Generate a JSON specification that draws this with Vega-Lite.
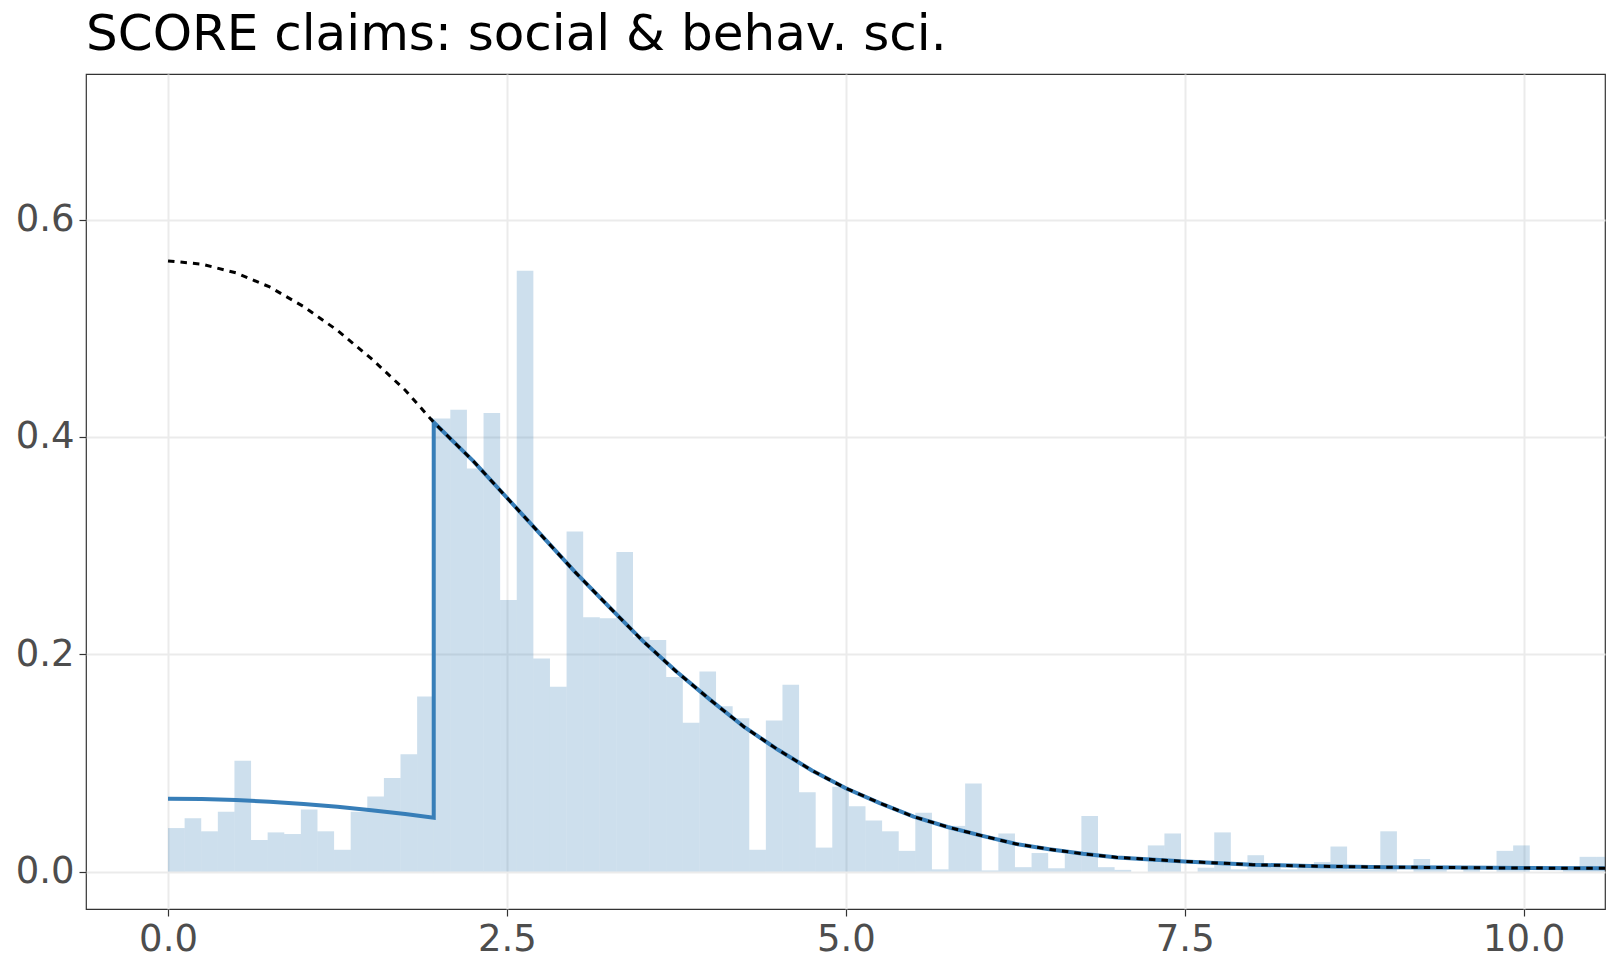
{
  "$schema": "https://vega.github.io/schema/vega-lite/v6.json",
  "description": "SCORE claims: social & behav. sci. - histogram of z with fitted densities",
  "width": 1519,
  "height": 835,
  "autosize": "none",
  "padding": {"left": 86, "top": 74, "right": 15, "bottom": 63},
  "background": "white",
  "title": {
    "text": "SCORE claims: social & behav. sci.",
    "anchor": "start",
    "frame": "group",
    "font": "DejaVu Sans",
    "fontSize": 50,
    "fontWeight": "normal",
    "color": "black",
    "baseline": "alphabetic",
    "offset": 18,
    "dy": 44
  },
  "config": {
    "view": {"stroke": "#333333", "strokeWidth": 1.2},
    "axis": {
      "title": null,
      "domain": false,
      "grid": true,
      "gridColor": "#EBEBEB",
      "gridWidth": 2,
      "tickColor": "#333333",
      "tickWidth": 1.2,
      "tickSize": 7,
      "labelColor": "#4D4D4D",
      "labelFont": "DejaVu Sans",
      "labelFontSize": 37,
      "labelPadding": 5,
      "labelOverlap": false,
      "labelFlush": false,
      "format": ".1f"
    }
  },
  "datasets": {
    "hist": [
      {"lo": 0, "hi": 0.1225, "density": 0.040},
      {"lo": 0.1225, "hi": 0.245, "density": 0.049},
      {"lo": 0.245, "hi": 0.3675, "density": 0.037},
      {"lo": 0.3675, "hi": 0.49, "density": 0.055},
      {"lo": 0.49, "hi": 0.6125, "density": 0.102},
      {"lo": 0.6125, "hi": 0.735, "density": 0.029},
      {"lo": 0.735, "hi": 0.8575, "density": 0.036},
      {"lo": 0.8575, "hi": 0.98, "density": 0.0345},
      {"lo": 0.98, "hi": 1.1025, "density": 0.057},
      {"lo": 1.1025, "hi": 1.225, "density": 0.037},
      {"lo": 1.225, "hi": 1.3475, "density": 0.020},
      {"lo": 1.3475, "hi": 1.47, "density": 0.055},
      {"lo": 1.47, "hi": 1.5925, "density": 0.069},
      {"lo": 1.5925, "hi": 1.715, "density": 0.086},
      {"lo": 1.715, "hi": 1.8375, "density": 0.108},
      {"lo": 1.8375, "hi": 1.96, "density": 0.161},
      {"lo": 1.96, "hi": 2.0825, "density": 0.417},
      {"lo": 2.0825, "hi": 2.205, "density": 0.425},
      {"lo": 2.205, "hi": 2.3275, "density": 0.371},
      {"lo": 2.3275, "hi": 2.45, "density": 0.422},
      {"lo": 2.45, "hi": 2.5725, "density": 0.250},
      {"lo": 2.5725, "hi": 2.695, "density": 0.553},
      {"lo": 2.695, "hi": 2.8175, "density": 0.196},
      {"lo": 2.8175, "hi": 2.94, "density": 0.170},
      {"lo": 2.94, "hi": 3.0625, "density": 0.313},
      {"lo": 3.0625, "hi": 3.185, "density": 0.234},
      {"lo": 3.185, "hi": 3.3075, "density": 0.233},
      {"lo": 3.3075, "hi": 3.43, "density": 0.294},
      {"lo": 3.43, "hi": 3.5525, "density": 0.216},
      {"lo": 3.5525, "hi": 3.675, "density": 0.213},
      {"lo": 3.675, "hi": 3.7975, "density": 0.179},
      {"lo": 3.7975, "hi": 3.92, "density": 0.137},
      {"lo": 3.92, "hi": 4.0425, "density": 0.184},
      {"lo": 4.0425, "hi": 4.165, "density": 0.152},
      {"lo": 4.165, "hi": 4.2875, "density": 0.141},
      {"lo": 4.2875, "hi": 4.41, "density": 0.020},
      {"lo": 4.41, "hi": 4.5325, "density": 0.139},
      {"lo": 4.5325, "hi": 4.655, "density": 0.172},
      {"lo": 4.655, "hi": 4.7775, "density": 0.073},
      {"lo": 4.7775, "hi": 4.9, "density": 0.022},
      {"lo": 4.9, "hi": 5.0225, "density": 0.078},
      {"lo": 5.0225, "hi": 5.145, "density": 0.060},
      {"lo": 5.145, "hi": 5.2675, "density": 0.047},
      {"lo": 5.2675, "hi": 5.39, "density": 0.037},
      {"lo": 5.39, "hi": 5.5125, "density": 0.019},
      {"lo": 5.5125, "hi": 5.635, "density": 0.054},
      {"lo": 5.635, "hi": 5.7575, "density": 0.002},
      {"lo": 5.7575, "hi": 5.88, "density": 0.042},
      {"lo": 5.88, "hi": 6.0025, "density": 0.081},
      {"lo": 6.0025, "hi": 6.125, "density": 0.001},
      {"lo": 6.125, "hi": 6.2475, "density": 0.035},
      {"lo": 6.2475, "hi": 6.37, "density": 0.004},
      {"lo": 6.37, "hi": 6.4925, "density": 0.017},
      {"lo": 6.4925, "hi": 6.615, "density": 0.003},
      {"lo": 6.615, "hi": 6.7375, "density": 0.016},
      {"lo": 6.7375, "hi": 6.86, "density": 0.051},
      {"lo": 6.86, "hi": 6.9825, "density": 0.004},
      {"lo": 6.9825, "hi": 7.105, "density": 0.0015},
      {"lo": 7.105, "hi": 7.2275, "density": 0},
      {"lo": 7.2275, "hi": 7.35, "density": 0.024},
      {"lo": 7.35, "hi": 7.4725, "density": 0.035},
      {"lo": 7.4725, "hi": 7.595, "density": 0},
      {"lo": 7.595, "hi": 7.7175, "density": 0.0035},
      {"lo": 7.7175, "hi": 7.84, "density": 0.036},
      {"lo": 7.84, "hi": 7.9625, "density": 0.002},
      {"lo": 7.9625, "hi": 8.085, "density": 0.015},
      {"lo": 8.085, "hi": 8.2075, "density": 0.004},
      {"lo": 8.2075, "hi": 8.33, "density": 0.002},
      {"lo": 8.33, "hi": 8.4525, "density": 0.004},
      {"lo": 8.4525, "hi": 8.575, "density": 0.0087},
      {"lo": 8.575, "hi": 8.6975, "density": 0.023},
      {"lo": 8.6975, "hi": 8.82, "density": 0.002},
      {"lo": 8.82, "hi": 8.9425, "density": 0.002},
      {"lo": 8.9425, "hi": 9.065, "density": 0.037},
      {"lo": 9.065, "hi": 9.1875, "density": 0},
      {"lo": 9.1875, "hi": 9.31, "density": 0.0115},
      {"lo": 9.31, "hi": 9.4325, "density": 0.002},
      {"lo": 9.4325, "hi": 9.555, "density": 0},
      {"lo": 9.555, "hi": 9.6775, "density": 0.002},
      {"lo": 9.6775, "hi": 9.8, "density": 0},
      {"lo": 9.8, "hi": 9.9225, "density": 0.019},
      {"lo": 9.9225, "hi": 10.045, "density": 0.024},
      {"lo": 10.045, "hi": 10.1675, "density": 0},
      {"lo": 10.1675, "hi": 10.29, "density": 0},
      {"lo": 10.29, "hi": 10.4125, "density": 0.002},
      {"lo": 10.4125, "hi": 10.535, "density": 0.0135},
      {"lo": 10.535, "hi": 10.6575, "density": 0.0135}
    ],
    "fitted": [
      {"z": 0, "dens": 0.562},
      {"z": 0.25, "dens": 0.559},
      {"z": 0.5, "dens": 0.551},
      {"z": 0.75, "dens": 0.538},
      {"z": 1.0, "dens": 0.520},
      {"z": 1.25, "dens": 0.498},
      {"z": 1.5, "dens": 0.472},
      {"z": 1.75, "dens": 0.443},
      {"z": 1.96, "dens": 0.4134},
      {"z": 2.25, "dens": 0.378},
      {"z": 2.5, "dens": 0.344},
      {"z": 2.75, "dens": 0.310},
      {"z": 3.0, "dens": 0.276},
      {"z": 3.25, "dens": 0.244},
      {"z": 3.5, "dens": 0.2125},
      {"z": 3.75, "dens": 0.184},
      {"z": 4.0, "dens": 0.158},
      {"z": 4.25, "dens": 0.133},
      {"z": 4.5, "dens": 0.112},
      {"z": 4.75, "dens": 0.093},
      {"z": 5.0, "dens": 0.0766},
      {"z": 5.25, "dens": 0.063},
      {"z": 5.5, "dens": 0.0505},
      {"z": 5.75, "dens": 0.041},
      {"z": 6.0, "dens": 0.033},
      {"z": 6.25, "dens": 0.0255},
      {"z": 6.5, "dens": 0.0205},
      {"z": 6.75, "dens": 0.0163},
      {"z": 7.0, "dens": 0.0130},
      {"z": 7.5, "dens": 0.0093},
      {"z": 8.0, "dens": 0.0063},
      {"z": 8.5, "dens": 0.0048},
      {"z": 9.0, "dens": 0.0040},
      {"z": 9.5, "dens": 0.0036},
      {"z": 10.0, "dens": 0.0032},
      {"z": 10.6, "dens": 0.0029}
    ],
    "selected": [
      {"i": 1, "z": 0, "dens": 0.067},
      {"i": 2, "z": 0.25, "dens": 0.0668},
      {"i": 3, "z": 0.5, "dens": 0.0658},
      {"i": 4, "z": 0.75, "dens": 0.0643},
      {"i": 5, "z": 1.0, "dens": 0.0621},
      {"i": 6, "z": 1.25, "dens": 0.0595},
      {"i": 7, "z": 1.5, "dens": 0.0564},
      {"i": 8, "z": 1.75, "dens": 0.0529},
      {"i": 9, "z": 1.96, "dens": 0.0494},
      {"i": 10, "z": 1.96, "dens": 0.4134},
      {"i": 11, "z": 2.25, "dens": 0.378},
      {"i": 12, "z": 2.5, "dens": 0.344},
      {"i": 13, "z": 2.75, "dens": 0.310},
      {"i": 14, "z": 3.0, "dens": 0.276},
      {"i": 15, "z": 3.25, "dens": 0.244},
      {"i": 16, "z": 3.5, "dens": 0.2125},
      {"i": 17, "z": 3.75, "dens": 0.184},
      {"i": 18, "z": 4.0, "dens": 0.158},
      {"i": 19, "z": 4.25, "dens": 0.133},
      {"i": 20, "z": 4.5, "dens": 0.112},
      {"i": 21, "z": 4.75, "dens": 0.093},
      {"i": 22, "z": 5.0, "dens": 0.0766},
      {"i": 23, "z": 5.25, "dens": 0.063},
      {"i": 24, "z": 5.5, "dens": 0.0505},
      {"i": 25, "z": 5.75, "dens": 0.041},
      {"i": 26, "z": 6.0, "dens": 0.033},
      {"i": 27, "z": 6.25, "dens": 0.0255},
      {"i": 28, "z": 6.5, "dens": 0.0205},
      {"i": 29, "z": 6.75, "dens": 0.0163},
      {"i": 30, "z": 7.0, "dens": 0.0130},
      {"i": 31, "z": 7.5, "dens": 0.0093},
      {"i": 32, "z": 8.0, "dens": 0.0063},
      {"i": 33, "z": 8.5, "dens": 0.0048},
      {"i": 34, "z": 9.0, "dens": 0.0040},
      {"i": 35, "z": 9.5, "dens": 0.0036},
      {"i": 36, "z": 10.0, "dens": 0.0032},
      {"i": 37, "z": 10.6, "dens": 0.0029}
    ]
  },
  "layer": [
    {
      "data": {"name": "hist"},
      "mark": {"type": "rect", "color": "#377EB8", "opacity": 0.25, "clip": true},
      "encoding": {
        "x": {
          "field": "lo",
          "type": "quantitative",
          "scale": {"domain": [-0.605, 10.6], "nice": false, "zero": false},
          "axis": {"values": [0, 2.5, 5, 7.5, 10]}
        },
        "x2": {"field": "hi"},
        "y": {
          "field": "density",
          "type": "quantitative",
          "scale": {"domain": [-0.0345, 0.734], "nice": false, "zero": false},
          "axis": {"values": [0, 0.2, 0.4, 0.6]}
        },
        "y2": {"datum": 0}
      }
    },
    {
      "data": {"name": "selected"},
      "mark": {"type": "line", "color": "#377EB8", "strokeWidth": 4, "clip": true},
      "encoding": {
        "x": {"field": "z", "type": "quantitative"},
        "y": {"field": "dens", "type": "quantitative"},
        "order": {"field": "i"}
      }
    },
    {
      "data": {"name": "fitted"},
      "mark": {"type": "line", "color": "black", "strokeWidth": 3, "strokeDash": [6.5, 6], "clip": true},
      "encoding": {
        "x": {"field": "z", "type": "quantitative"},
        "y": {"field": "dens", "type": "quantitative"}
      }
    }
  ]
}
